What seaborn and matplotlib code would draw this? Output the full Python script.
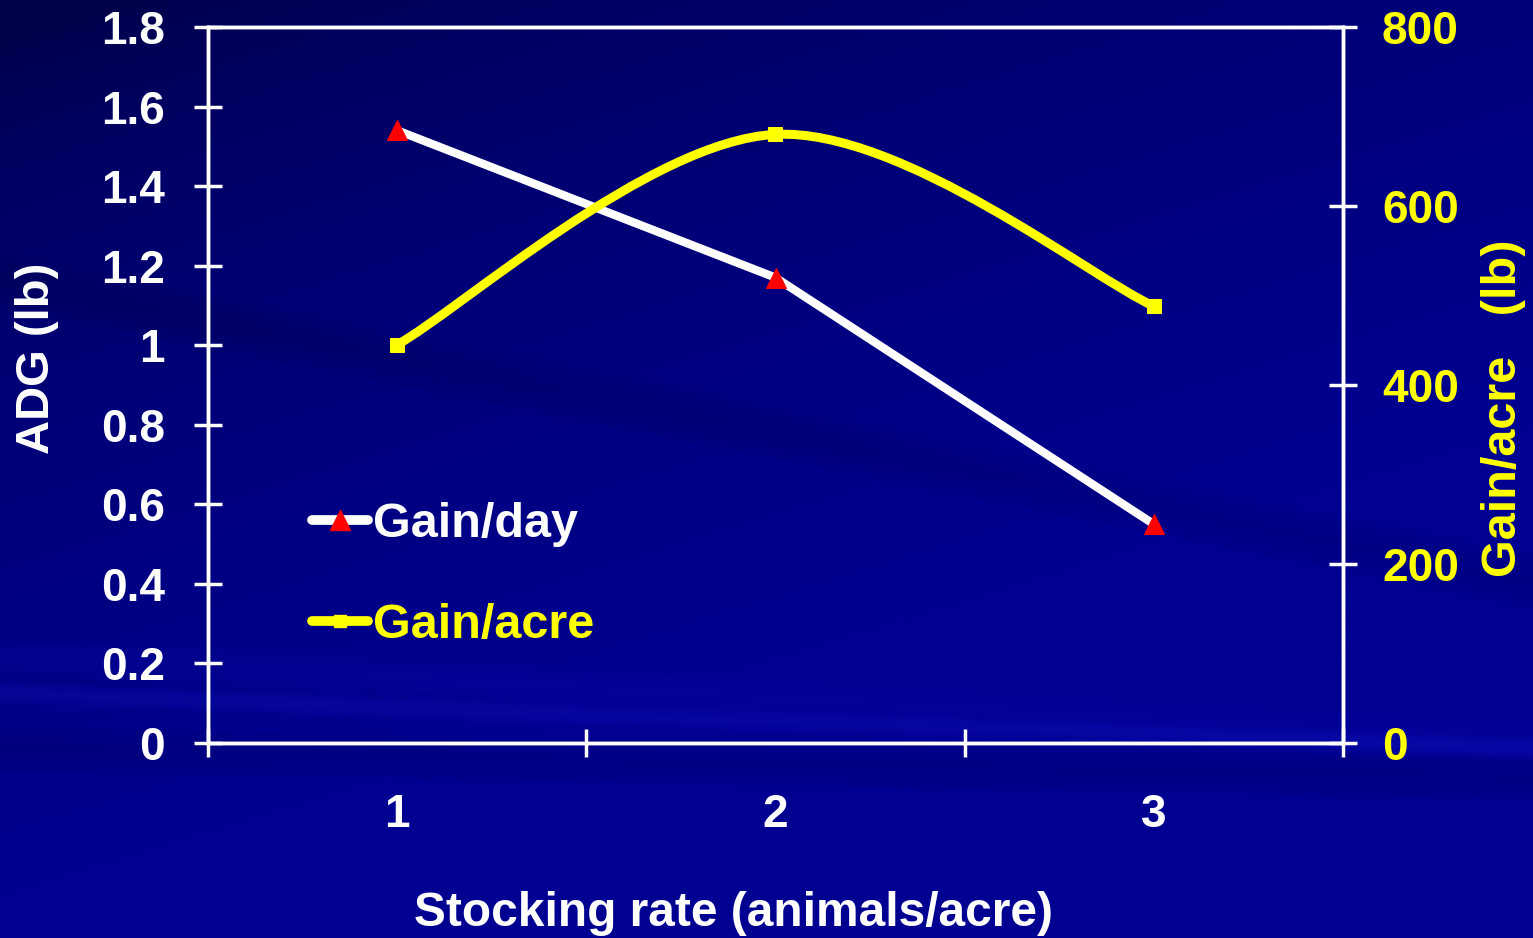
import numpy as np
import pandas as pd
import matplotlib
matplotlib.use("Agg")
import matplotlib.pyplot as plt
from matplotlib.path import Path
from matplotlib.patches import PathPatch
from matplotlib.lines import Line2D
import seaborn as sns

# ---- data ----
rates = [1, 2, 3]
rate_labels = ["1", "2", "3"]
gain_day = [1.54, 1.17, 0.55]      # ADG (lb), left axis
gain_acre = [445, 680, 488]        # Gain/acre (lb), right axis
left_ticks = [0, 0.2, 0.4, 0.6, 0.8, 1, 1.2, 1.4, 1.6, 1.8]
left_labels = ["0", "0.2", "0.4", "0.6", "0.8", "1", "1.2", "1.4", "1.6", "1.8"]
right_ticks = [0, 200, 400, 600, 800]
right_labels = ["0", "200", "400", "600", "800"]

sns.set_theme(style="white")
plt.rcParams["font.family"] = ["Liberation Sans", "DejaVu Sans"]
plt.rcParams["font.weight"] = "bold"

W, H = 1533, 938
fig = plt.figure(figsize=(W / 100, H / 100), dpi=100)

# ---- background (dark blue with streaks) ----
h, w = 300, 490
yy, xx = np.mgrid[0:h, 0:w]
xn = xx / (w - 1)
yn = yy / (h - 1)  # 0 at top
t = np.clip(0.55 * xn + 1.1 * yn - 0.05, 0, 1) ** 0.55
dark = np.array([0, 0, 72]) / 255
light = np.array([0, 0, 145]) / 255
img = dark[None, None, :] * (1 - t[..., None]) + light[None, None, :] * t[..., None]
def band(y0, y1, width, amount, color):
    global img
    line = y0 + (y1 - y0) * xn
    d = np.abs(yn - line)
    m = np.clip(1 - d / width, 0, 1) ** 0.5
    img = img + m[..., None] * amount * np.array(color)[None, None, :]
band(0.30, 0.62, 0.03, -0.05, [0, 0, 1])
band(0.74, 0.80, 0.012, 0.06, [0.4, 0.4, 1])
band(0.70, 0.79, 0.02, 0.03, [0.3, 0.3, 1])
band(0.80, 0.83, 0.025, -0.05, [0, 0, 1])
img = np.clip(img, 0, 1)
bg = fig.add_axes([0, 0, 1, 1], zorder=0)
bg.imshow(img, aspect="auto", extent=[0, 1, 0, 1], interpolation="bilinear")
bg.set_axis_off()

# ---- main axes ----
ax = fig.add_axes([208 / W, (H - 743) / H, 1135 / W, 716 / H], zorder=1)
ax.patch.set_alpha(0)
ax2 = ax.twinx()
ax2.patch.set_alpha(0)

df = pd.DataFrame({"rate": rates, "day": gain_day, "acre": gain_acre})

sns.lineplot(data=df, x="rate", y="day", ax=ax, color="white", lw=6,
             marker="^", markersize=15, markerfacecolor="red",
             markeredgecolor="red", zorder=4)

# Excel-style smoothed line for gain/acre (Bezier through the points)
xs = np.array(rates, float)
ys = np.array(gain_acre, float)
n = len(xs)
verts = [(xs[0], ys[0])]
codes = [Path.MOVETO]
for i in range(n - 1):
    p0 = np.array([xs[max(i - 1, 0)], ys[max(i - 1, 0)]])
    p1 = np.array([xs[i], ys[i]])
    p2 = np.array([xs[i + 1], ys[i + 1]])
    p3 = np.array([xs[min(i + 2, n - 1)], ys[min(i + 2, n - 1)]])
    c1 = p1 + (p2 - p0) / 6
    c2 = p2 - (p3 - p1) / 6
    verts += [tuple(c1), tuple(c2), tuple(p2)]
    codes += [Path.CURVE4] * 3
ax2.add_patch(PathPatch(Path(verts, codes), facecolor="none",
                        edgecolor="#ffff00", lw=6.5, zorder=3))
sns.lineplot(data=df, x="rate", y="acre", ax=ax2, color="#ffff00", lw=0,
             marker="s", markersize=10, markerfacecolor="#ffff00",
             markeredgecolor="#ffff00", zorder=4)

# ---- axes styling ----
ax.set_xlim(0.5, 3.5)
ax.set_ylim(0, 1.8)
ax2.set_ylim(0, 800)
ax.set_xticks([0.5, 1.5, 2.5, 3.5])
ax.set_xticklabels([])
ax.set_xticks(rates, minor=True)
ax.set_xticklabels(rate_labels, minor=True)
ax.set_yticks(left_ticks)
ax.set_yticklabels(left_labels)
ax2.set_yticks(right_ticks)
ax2.set_yticklabels(right_labels)

for a in (ax, ax2):
    for s in a.spines.values():
        s.set_color("white")
        s.set_linewidth(2.5)
        s.set_visible(True)
ax.tick_params(axis="x", which="major", direction="inout", length=20,
               width=2.5, color="white", bottom=True)
ax.tick_params(axis="x", which="minor", length=0, pad=36, labelsize=33,
               labelcolor="white", bottom=True)
ax.tick_params(axis="y", direction="inout", length=20, width=2.5,
               color="white", labelsize=33, labelcolor="white", pad=21, left=True)
ax2.tick_params(axis="y", direction="inout", length=20, width=2.5,
                color="white", labelsize=33, labelcolor="#ffff00", pad=18, right=True)
for lab in ax.get_xticklabels(minor=True) + ax.get_yticklabels() + ax2.get_yticklabels():
    lab.set_fontweight("bold")
ax.set_xlabel("")
ax.set_ylabel("")
ax2.set_ylabel("")

fig.text(734 / W, 1 - 913 / H, "Stocking rate (animals/acre)", color="white",
         fontsize=34.5, fontweight="bold", ha="center", va="center")
fig.text(37 / W, 1 - 358 / H, "ADG (lb)", color="white", fontsize=34,
         fontweight="bold", ha="center", va="center", rotation=90)
fig.text(1503 / W, 1 - 408 / H, "Gain/acre   (lb)", color="#ffff00", fontsize=35,
         fontweight="bold", ha="center", va="center", rotation=90)

# ---- legend ----
handles = [
    Line2D([0], [0], color="white", lw=7, marker="^", markersize=15,
           markerfacecolor="red", markeredgecolor="red", solid_capstyle="round"),
    Line2D([0], [0], color="#ffff00", lw=7, marker="s", markersize=9,
           markerfacecolor="#ffff00", markeredgecolor="#ffff00", solid_capstyle="round"),
]
leg = ax.legend(handles, ["Gain/day", "Gain/acre"], loc="upper left",
                bbox_to_anchor=(312 / W, 1 - 502 / H), bbox_transform=fig.transFigure,
                frameon=False, fontsize=35, handlelength=1.15, handletextpad=0.1,
                labelspacing=1.15, borderpad=0, borderaxespad=0)
for txt, c in zip(leg.get_texts(), ["white", "#ffff00"]):
    txt.set_color(c)
    txt.set_fontweight("bold")

fig.savefig("out.png", dpi=100)
